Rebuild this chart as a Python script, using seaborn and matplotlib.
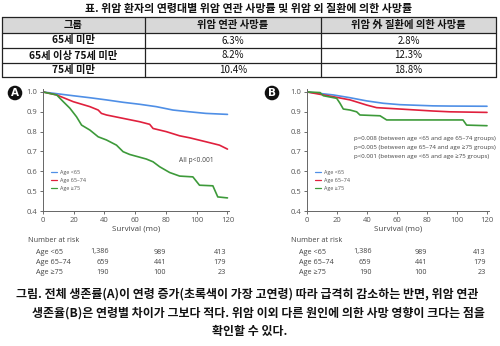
import numpy as np
import pandas as pd
import matplotlib
matplotlib.use("Agg")
import matplotlib.pyplot as plt
import matplotlib.transforms as mtransforms
from matplotlib.lines import Line2D
from matplotlib.patches import Rectangle
import seaborn as sns

sns.set_style("white")
plt.rcParams['font.family'] = ['Open Sans', 'DejaVu Sans']

# ---------------- data ----------------
table_title = "표. 위암 환자의 연령대별 위암 연관 사망률 및 위암 외 질환에 의한 사망률"
table_header = ["그룹", "위암 연관 사망률", "위암 外 질환에 의한 사망률"]
table_groups = ["65세 미만", "65세 이상 75세 미만", "75세 미만"]
cancer_death = ["6.3%", "8.2%", "10.4%"]
other_death = ["2.8%", "12.3%", "18.8%"]

groups = ["Age <65", "Age 65–74", "Age ≥75"]
colors = ["#4f8fe6", "#e0203d", "#3d9a3a"]

# Panel A: overall survival
a_t_lt65 = [0, 19.7, 30.5, 41.3, 52.1, 62.9, 73.7, 84.5, 95.4, 106, 120]
a_s_lt65 = [1.0, 0.981, 0.971, 0.96, 0.948, 0.938, 0.926, 0.909, 0.9, 0.892, 0.887]
a_t_6574 = [0, 8.9, 19.7, 30.5, 35.9, 38, 41.3, 52.1, 62.9, 69.4, 71.6, 80.2, 88.9, 95.4, 106, 114.8, 120]
a_s_6574 = [1.0, 0.985, 0.951, 0.926, 0.909, 0.892, 0.884, 0.867, 0.85, 0.837, 0.816, 0.8, 0.779,
            0.769, 0.749, 0.732, 0.712]
a_t_ge75 = [0, 8.9, 13.2, 17.5, 21.8, 25.1, 30.5, 35.9, 41.3, 47.8, 52.1, 56.4, 67.2, 71.6, 75.9,
            82.4, 88.9, 97.5, 101.8, 110.5, 113.7, 120]
a_s_ge75 = [1.0, 0.985, 0.951, 0.918, 0.875, 0.833, 0.808, 0.774, 0.758, 0.732, 0.699, 0.685, 0.662,
            0.648, 0.623, 0.594, 0.576, 0.572, 0.53, 0.527, 0.471, 0.466]

# Panel B: gastric cancer-related survival
b_t_lt65 = [0, 17.6, 28.7, 39.8, 50.9, 62, 84, 95.3, 120]
b_s_lt65 = [1.0, 0.985, 0.971, 0.955, 0.943, 0.936, 0.93, 0.929, 0.928]
b_t_6574 = [0, 17.6, 28.7, 39.8, 46.4, 62, 84, 95.3, 120]
b_s_6574 = [1.0, 0.976, 0.96, 0.934, 0.921, 0.914, 0.904, 0.9, 0.897]
b_t_ge75 = [0, 8.7, 10.9, 19.8, 22, 24.2, 28.7, 33.1, 35.3, 48.7, 53.1, 104, 106.4, 120]
b_s_ge75 = [1.0, 0.997, 0.981, 0.968, 0.943, 0.914, 0.909, 0.9, 0.884, 0.88, 0.859, 0.859, 0.833, 0.83]

risk_times = [43, 80, 119]
risk_lt65 = ["1,386", "989", "413"]
risk_6574 = ["659", "441", "179"]
risk_ge75 = ["190", "100", "23"]

x_ticks = [0, 20, 40, 60, 80, 100, 120]
y_ticks = [0.4, 0.5, 0.6, 0.7, 0.8, 0.9, 1.0]

p_text_a = "All p<0.001"
p_text_b = ["p=0.008 (between age <65 and age 65–74 groups)",
            "p=0.005 (between age 65–74 and age ≥75 groups)",
            "p<0.001 (between age <65 and age ≥75 groups)"]

caption = ["그림. 전체 생존률(A)이 연령 증가(초록색이 가장 고연령) 따라 급격히 감소하는 반면, 위암 연관",
           "생존율(B)은 연령별 차이가 그보다 적다. 위암 이외 다른 원인에 의한 사망 영향이 크다는 점을",
           "확인할 수 있다."]

W, H = 500, 346
fig = plt.figure(figsize=(W / 100, H / 100), dpi=100)
fig.patch.set_facecolor("white")

def fx(x):
    return x / W

def fy(y):
    return 1 - y / H

KR = ['Noto Sans CJK KR', 'DejaVu Sans']
TXT = '#444444'

# ---------------- table ----------------
fig.text(fx(249), fy(9), table_title, family=KR, fontsize=7.9, weight='bold',
         ha='center', va='center', color='#111111')
col_x = [2, 145, 321, 496]
row_y = [17, 33, 48, 63, 77]
fig.patches.append(Rectangle((fx(col_x[0]), fy(row_y[1])), fx(col_x[-1] - col_x[0]),
                             (row_y[1] - row_y[0]) / H, transform=fig.transFigure,
                             facecolor='#d8d8d8', edgecolor='none', zorder=0))
for y in row_y:
    fig.add_artist(Line2D([fx(col_x[0]), fx(col_x[-1])], [fy(y), fy(y)], color='#222222', lw=0.9))
for x in col_x:
    fig.add_artist(Line2D([fx(x), fx(x)], [fy(row_y[0]), fy(row_y[-1])], color='#222222', lw=0.9))
for j, h in enumerate(table_header):
    fig.text(fx((col_x[j] + col_x[j + 1]) / 2), fy((row_y[0] + row_y[1]) / 2), h, family=KR,
             fontsize=7.4, weight='bold', ha='center', va='center', color='#111111')
for i in range(3):
    yc = fy((row_y[i + 1] + row_y[i + 2]) / 2)
    fig.text(fx((col_x[0] + col_x[1]) / 2), yc, table_groups[i], family=KR, fontsize=7.4,
             weight='bold', ha='center', va='center', color='#111111')
    fig.text(fx((col_x[1] + col_x[2]) / 2), yc, cancer_death[i], family=KR, fontsize=7.0,
             ha='center', va='center', color='#111111')
    fig.text(fx((col_x[2] + col_x[3]) / 2), yc, other_death[i], family=KR, fontsize=7.0,
             ha='center', va='center', color='#111111')

# ---------------- KM panels ----------------
def build_df(tl, sl):
    rows = []
    for g, t, s in zip(groups, tl, sl):
        for ti, si in zip(t, s):
            rows.append((g, ti, si))
    return pd.DataFrame(rows, columns=["group", "time", "surv"])

dfA = build_df([a_t_lt65, a_t_6574, a_t_ge75], [a_s_lt65, a_s_6574, a_s_ge75])
dfB = build_df([b_t_lt65, b_t_6574, b_t_ge75], [b_s_lt65, b_s_6574, b_s_ge75])

top_px, bot_px = 89, 211
axA = fig.add_axes([fx(43), fy(bot_px), 186 / W, (bot_px - top_px) / H])
axB = fig.add_axes([fx(307), fy(bot_px), 181.5 / W, (bot_px - top_px) / H])

pal = dict(zip(groups, colors))
for ax, df in [(axA, dfA), (axB, dfB)]:
    sns.lineplot(data=df, x="time", y="surv", hue="group", palette=pal, estimator=None,
                 lw=1.2, ax=ax, legend=False)
    ax.set_xlim(0, 121)
    ax.set_ylim(0.4, 1.015)
    ax.set_xticks(x_ticks)
    ax.set_yticks(y_ticks)
    ax.set_xticklabels([str(t) for t in x_ticks])
    ax.set_yticklabels([f"{v:.1f}" for v in y_ticks])
    ax.tick_params(axis='both', labelsize=5.5, colors='#555555', length=2.5, width=0.6, pad=1.5,
                   direction='out', left=True, bottom=True)
    for s in ['top', 'right']:
        ax.spines[s].set_visible(False)
    for s in ['left', 'bottom']:
        ax.spines[s].set_color('#666666')
        ax.spines[s].set_linewidth(0.7)
    ax.set_xlabel("Survival (mo)", fontsize=5.8, color=TXT, labelpad=1.5)
    ax.set_ylabel("")
    ax.patch.set_alpha(0)
    handles = [Line2D([], [], color=c, lw=0.9) for c in colors]
    leg = ax.legend(handles, groups, loc='lower left', bbox_to_anchor=(0.03, 0.15),
                    frameon=False, fontsize=3.9, handlelength=1.2, handletextpad=0.5,
                    labelspacing=0.55, borderaxespad=0)
    for t in leg.get_texts():
        t.set_color('#555555')

axA.text(100, 0.657, p_text_a, fontsize=4.8, color='#444444', ha='center', va='center')
for i, line in enumerate(p_text_b):
    axB.text(31.5, 0.763 - i * 0.044, line, fontsize=4.4, color='#444444', ha='left', va='center')

# number at risk
for ax, x0 in [(axA, 28), (axB, 291)]:
    fig.text(fx(x0), fy(241), "Number at risk", fontsize=5.2, color=TXT, ha='left', va='center')
    tr = mtransforms.blended_transform_factory(ax.transData, fig.transFigure)
    for i, (g, vals) in enumerate(zip(groups, [risk_lt65, risk_6574, risk_ge75])):
        yy = fy(252 + i * 10.5)
        fig.text(fx(x0 + 8), yy, g, fontsize=5.2, color=TXT, ha='left', va='center')
        for t, v in zip(risk_times, vals):
            ax.text(t, yy, v, transform=tr, fontsize=5.2, color=TXT, ha='right', va='center',
                    clip_on=False)

# badges
for lbl, x0 in [("A", 15), ("B", 272)]:
    fig.text(fx(x0), fy(93), lbl, fontsize=7.5, weight='bold', color='white', ha='center',
             va='center', family=['DejaVu Sans'],
             bbox=dict(boxstyle='circle,pad=0.22', facecolor='#111111', edgecolor='none'))

# caption
fig.text(fx(16), fy(294), caption[0], family=KR, fontsize=8.6, weight='bold', ha='left',
         va='center', color='#111111')
fig.text(fx(32), fy(313), caption[1], family=KR, fontsize=8.6, weight='bold', ha='left',
         va='center', color='#111111')
fig.text(fx(250), fy(332), caption[2], family=KR, fontsize=8.6, weight='bold', ha='center',
         va='center', color='#111111')

fig.savefig("out.png", dpi=100, facecolor='white')
